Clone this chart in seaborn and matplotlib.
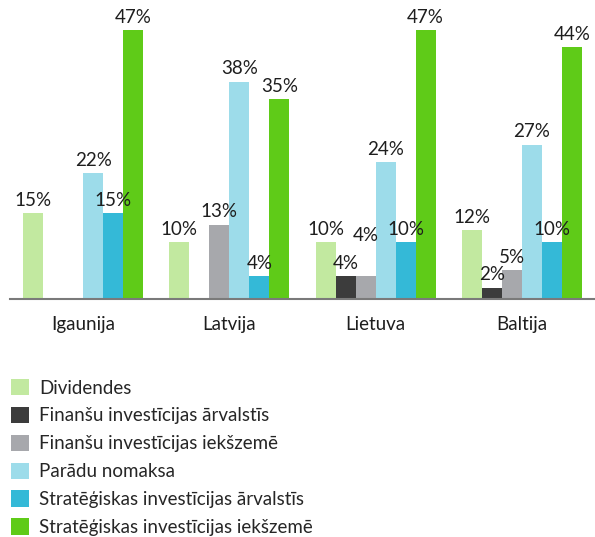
import pandas as pd
import matplotlib.pyplot as plt
import seaborn as sns

countries = ["Igaunija", "Latvija", "Lietuva", "Baltija"]
series = [
    "Dividendes",
    "Finanšu investīcijas ārvalstīs",
    "Finanšu investīcijas iekšzemē",
    "Parādu nomaksa",
    "Stratēģiskas investīcijas ārvalstīs",
    "Stratēģiskas investīcijas iekšzemē",
]
dividendes = [15, 10, 10, 12]
fin_arv = [0, 0, 4, 2]
fin_iek = [0, 13, 4, 5]
paradu = [22, 38, 24, 27]
strat_arv = [15, 4, 10, 10]
strat_iek = [47, 35, 47, 44]
colors = ["#c2e9a0", "#3c3c3c", "#a7a8ac", "#9ddcea", "#34b9d7", "#5fcb18"]

values = [dividendes, fin_arv, fin_iek, paradu, strat_arv, strat_iek]
rows = []
for s, vals in zip(series, values):
    for c, v in zip(countries, vals):
        rows.append({"Valsts": c, "Mērķis": s, "Vērtība": v})
df = pd.DataFrame(rows)

sns.set_style("white")
plt.rcParams["font.family"] = ["Lato", "DejaVu Sans"]

fig = plt.figure(figsize=(5.95, 5.37), dpi=100)
ax = fig.add_axes([10 / 595, 1 - 299 / 537, 585 / 595, (299 - 13) / 537])

sns.barplot(data=df, x="Valsts", y="Vērtība", hue="Mērķis", hue_order=series,
            order=countries, palette=colors, width=0.82, linewidth=0,
            saturation=1, ax=ax, legend=True)

for i, cont in enumerate(ax.containers):
    labels = [f"{v:.0f}%" if v > 0 else "" for v in cont.datavalues]
    texts = ax.bar_label(cont, labels=labels, padding=3, fontsize=13.5, color="#1e1e1e")
    # Lietuva: the two 4% labels would collide, lift the second one
    if i == 2:
        texts[2].xyann = (0, 23)

ax.set_xlim(-0.5, 3.5)
ax.set_ylim(0, 50)
ax.set_xlabel("")
ax.set_ylabel("")
ax.set_yticks([])
for side in ["top", "right", "left"]:
    ax.spines[side].set_visible(False)
ax.spines["bottom"].set_color("#7a7a7a")
ax.spines["bottom"].set_linewidth(1.5)

ax.set_xticks([-0.5, 0.5, 1.5, 2.5, 3.5], minor=True)
ax.tick_params(axis="x", which="minor", length=7, width=1.2, color="#7a7a7a", direction="out")
ax.tick_params(axis="x", which="major", length=0, pad=12, labelsize=13.5, labelcolor="#1e1e1e")

handles, labels = ax.get_legend_handles_labels()
ax.get_legend().remove()
fig.legend(handles, labels, loc="upper left", bbox_to_anchor=(-0.004, 1 - 366 / 537),
           frameon=False, fontsize=13.5, handlelength=0.95, handleheight=0.95,
           labelspacing=0.55, handletextpad=0.55, borderaxespad=0.3)

fig.savefig("out.png", dpi=100)
